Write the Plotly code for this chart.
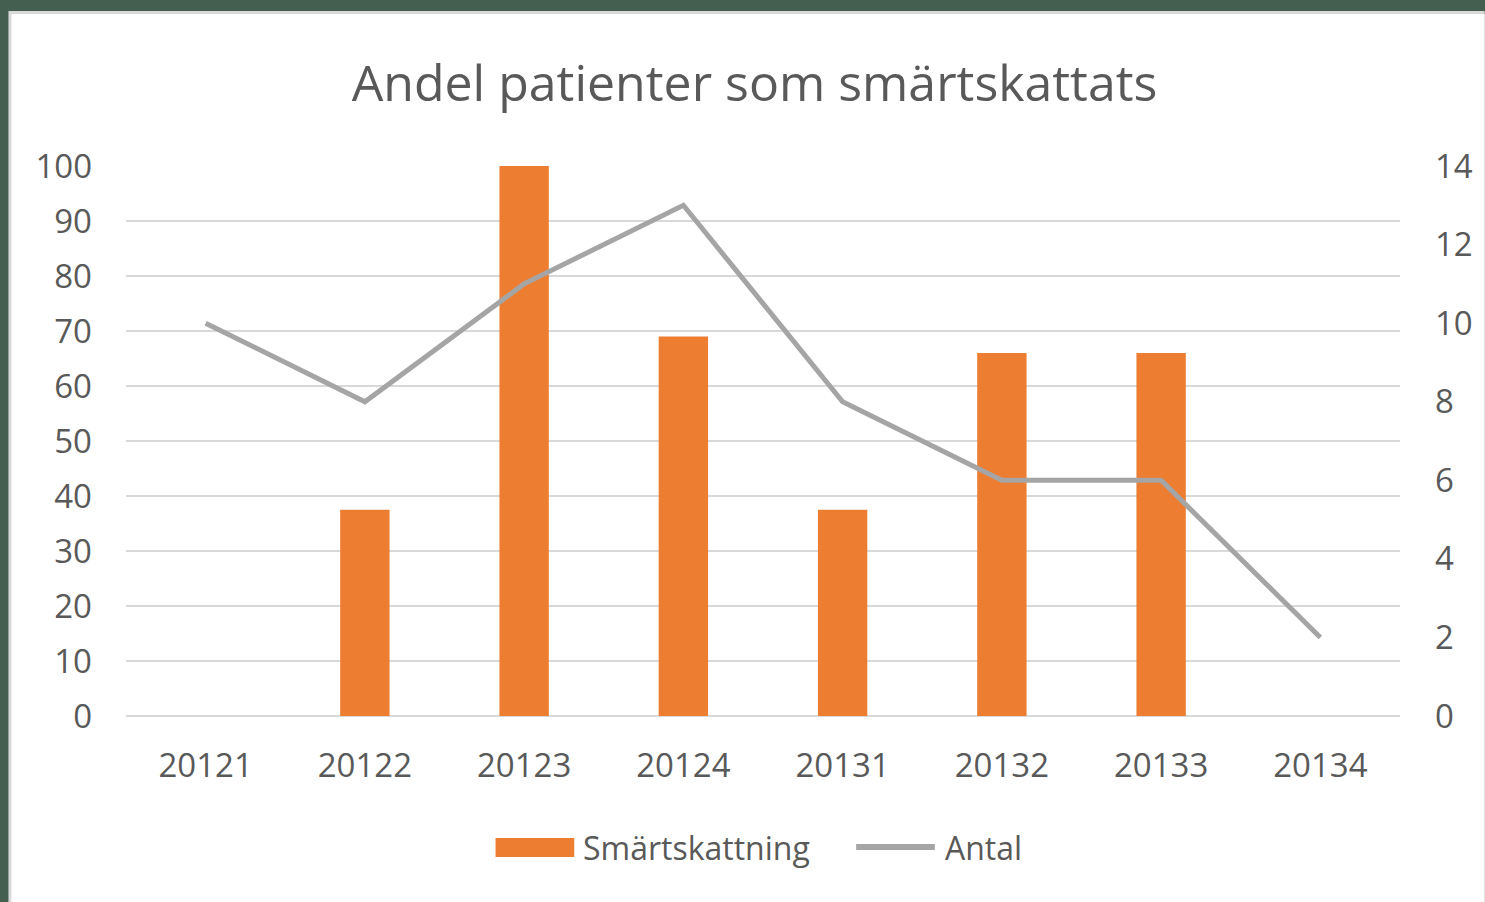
import plotly.graph_objects as go

categories = ["20121", "20122", "20123", "20124", "20131", "20132", "20133", "20134"]
smartskattning = [0, 37.5, 100, 69, 37.5, 66, 66, 0]
antal = [10, 8, 11, 13, 8, 6, 6, 2]

W, H = 1485, 902
L, R, T, B = 126, 1405, 166, 716

def px(x):
    return (x - L) / (R - L)

def py(y):
    return (B - y) / (B - T)

font_family = "Open Sans, Liberation Sans, sans-serif"
txt = "#595959"
bar_color = "#ed7d31"
line_color = "#a5a5a5"

fig = go.Figure()
fig.add_trace(go.Bar(
    x=categories, y=smartskattning, name="Smärtskattning",
    marker=dict(color=bar_color, line=dict(width=0)), width=0.31, showlegend=False,
))
fig.add_trace(go.Scatter(
    x=categories, y=antal, name="Antal", yaxis="y2", mode="lines",
    line=dict(color=line_color, width=5), showlegend=False,
))

shapes = [
    dict(type="rect", xref="paper", yref="paper", x0=px(8), x1=px(W + 5), y0=py(11), y1=py(H + 5),
         fillcolor="#d9d9d9", line=dict(width=0), layer="below"),
    dict(type="rect", xref="paper", yref="paper", x0=px(11), x1=px(W + 5), y0=py(14), y1=py(H + 5),
         fillcolor="#ffffff", line=dict(width=0), layer="below"),
    # legend swatches
    dict(type="rect", xref="paper", yref="paper", x0=px(497), x1=px(576), y0=py(857), y1=py(838),
         fillcolor=bar_color, line=dict(width=0)),
    dict(type="line", xref="paper", yref="paper", x0=px(859), x1=px(938), y0=py(847), y1=py(847),
         line=dict(color=line_color, width=6)),
]

annotations = [
    dict(text="Smärtskattning", xref="paper", yref="paper", x=px(583), y=py(847),
         xanchor="left", yanchor="middle", showarrow=False,
         font=dict(family=font_family, size=32, color=txt)),
    dict(text="Antal", xref="paper", yref="paper", x=px(946), y=py(847),
         xanchor="left", yanchor="middle", showarrow=False,
         font=dict(family=font_family, size=32, color=txt)),
]

fig.update_layout(
    width=W, height=H,
    margin=dict(l=L, r=W - R, t=T, b=H - B),
    paper_bgcolor="#445e50", plot_bgcolor="rgba(0,0,0,0)",
    shapes=shapes, annotations=annotations,
    title=dict(text="Andel patienter som smärtskattats", x=754.5 / W, xanchor="center",
               y=1 - 83 / H, yanchor="middle",
               font=dict(family=font_family, size=50, color=txt)),
    font=dict(family=font_family, color=txt),
    showlegend=False,
    xaxis=dict(type="category", showgrid=False, showline=False, ticks="",
               tickfont=dict(size=33, color=txt), ticklabelstandoff=27),
    yaxis=dict(range=[0, 100], dtick=10, showgrid=True, gridcolor="#d9d9d9", gridwidth=1.5,
               zeroline=True, zerolinecolor="#d9d9d9", zerolinewidth=1.5,
               showline=False, ticks="", tickfont=dict(size=33, color=txt), ticklabelstandoff=33),
    yaxis2=dict(range=[0, 14], dtick=2, overlaying="y", side="right", showgrid=False,
                zeroline=False, showline=False, ticks="", tickfont=dict(size=33, color=txt),
                ticklabelstandoff=34),
)

fig.write_html("out.html", config={"displayModeBar": False},
               post_script="document.body.style.margin='0px';document.body.style.padding='0px';"
                           "document.body.style.overflow='hidden';")
